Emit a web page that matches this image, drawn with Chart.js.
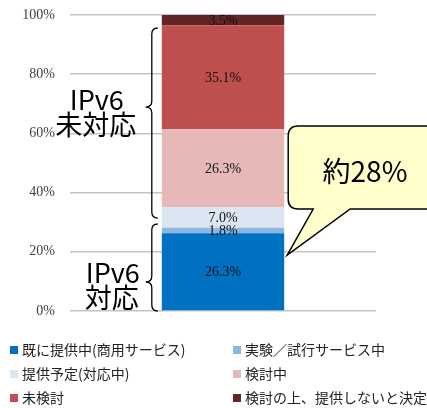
<!DOCTYPE html>
<html><head><meta charset="utf-8">
<script src="https://cdn.jsdelivr.net/npm/chart.js@4"></script>
<style>html,body{margin:0;padding:0;background:#fff;overflow:hidden} canvas{display:block}</style>
</head><body>
<canvas id="c" width="427" height="408" style="width:427px;height:408px"></canvas>
<script>
const categories = ['IPv6対応状況'];
const seriesLabels = ['既に提供中(商用サービス)', '実験／試行サービス中', '提供予定(対応中)', '検討中', '未検討', '検討の上、提供しないと決定'];
const seriesValues = [26.3, 1.8, 7.0, 26.3, 35.1, 3.5];
const seriesColors = ['#0070C0', '#8DB4E2', '#DCE6F2', '#E6B9B8', '#C0504D', '#632523'];
const yTickValues = [0, 20, 40, 60, 80, 100];
const groupLabels = [['IPv6', '未対応'], ['IPv6', '対応']];
const groupBraces = [[31.4, 68.9, 95.6], [0.0, 9.8, 29.4]]; // bottom, tip, top (in %)
const groupLabelCenters = [67.1, 8.8];
const calloutText = '約28%';
const calloutTipValue = 18.9;

const datasets = seriesLabels.map((name, i) => ({
  label: name,
  data: [seriesValues[i]],
  backgroundColor: seriesColors[i],
  borderWidth: 0,
  barPercentage: 1.0,
  categoryPercentage: 0.4
}));

const serif = '"Liberation Serif", "DejaVu Serif", serif';
const sans = '"Noto Sans CJK JP", "Noto Sans", sans-serif';

const valueLabelPlugin = {
  id: 'valueLabels',
  afterDatasetsDraw(chart) {
    const ctx = chart.ctx;
    ctx.save();
    ctx.font = '14px ' + serif;
    ctx.fillStyle = '#111';
    ctx.textAlign = 'center';
    ctx.textBaseline = 'middle';
    chart.data.datasets.forEach((ds, i) => {
      const meta = chart.getDatasetMeta(i);
      meta.data.forEach((el, j) => {
        const cy = (el.y + el.base) / 2;
        ctx.fillText(ds.data[j].toFixed(1) + '%', el.x, cy + 1);
      });
    });
    ctx.restore();
  }
};

function drawBrace(ctx, x, yTop, yTip, yBottom, w) {
  ctx.beginPath();
  ctx.moveTo(x + w, yTop);
  ctx.quadraticCurveTo(x, yTop, x, yTop + w);
  ctx.lineTo(x, yTip - w);
  ctx.quadraticCurveTo(x, yTip, x - w, yTip);
  ctx.quadraticCurveTo(x, yTip, x, yTip + w);
  ctx.lineTo(x, yBottom - w);
  ctx.quadraticCurveTo(x, yBottom, x + w, yBottom);
  ctx.stroke();
}

const annotationPlugin = {
  id: 'annotations',
  afterDraw(chart) {
    const ctx = chart.ctx;
    const y = chart.scales.y;
    const bar = chart.getDatasetMeta(0).data[0];
    const barLeft = bar.x - bar.width / 2;
    const barRight = bar.x + bar.width / 2;
    ctx.save();
    ctx.strokeStyle = '#000';
    ctx.lineWidth = 1.3;
    const bx = barLeft - 10;
    groupBraces.forEach(b => {
      drawBrace(ctx, bx, y.getPixelForValue(b[2]), y.getPixelForValue(b[1]), y.getPixelForValue(b[0]), 6);
    });
    ctx.fillStyle = '#000';
    ctx.textAlign = 'center';
    ctx.textBaseline = 'middle';
    ctx.font = '27px ' + sans;
    const labelX = [bx - 56, bx - 40];
    groupLabels.forEach((lines, i) => {
      const cy = y.getPixelForValue(groupLabelCenters[i]);
      ctx.fillText(lines[0], labelX[i] + 1, cy - 12.5);
      ctx.fillText(lines[1], labelX[i], cy + 12.5);
    });
    const left = barRight + 4, top = 126, bottom = 209, right = 460, r = 10;
    const tipX = barRight + 3, tipY = y.getPixelForValue(calloutTipValue);
    ctx.beginPath();
    ctx.moveTo(left + r, top);
    ctx.lineTo(right, top);
    ctx.lineTo(right, bottom);
    ctx.lineTo(left + 62, bottom);
    ctx.lineTo(tipX, tipY);
    ctx.lineTo(left + 25, bottom);
    ctx.lineTo(left + r, bottom);
    ctx.quadraticCurveTo(left, bottom, left, bottom - r);
    ctx.lineTo(left, top + r);
    ctx.quadraticCurveTo(left, top, left + r, top);
    ctx.closePath();
    ctx.fillStyle = '#FFFFCC';
    ctx.fill();
    ctx.lineWidth = 1.5;
    ctx.strokeStyle = '#000';
    ctx.stroke();
    ctx.fillStyle = '#000';
    ctx.font = '28px ' + sans;
    ctx.fillText(calloutText, 365, 171);
    ctx.restore();
  }
};

const legendPlugin = {
  id: 'gridLegend',
  afterDraw(chart) {
    const ctx = chart.ctx;
    ctx.save();
    ctx.font = '14px ' + sans;
    ctx.textBaseline = 'middle';
    ctx.textAlign = 'left';
    const colX = [10, 233];
    const rowY = [350, 374, 398];
    chart.data.datasets.forEach((ds, i) => {
      const col = i % 2, row = Math.floor(i / 2);
      const x = colX[col], yy = rowY[row];
      ctx.fillStyle = ds.backgroundColor;
      ctx.fillRect(x, yy - 4, 8, 8);
      ctx.fillStyle = '#222';
      ctx.fillText(ds.label, x + 12, yy);
    });
    ctx.restore();
  }
};

new Chart(document.getElementById('c'), {
  type: 'bar',
  data: { labels: categories, datasets },
  options: {
    responsive: false,
    animation: false,
    layout: { padding: { left: 0, right: 51, top: 15, bottom: 97 } },
    plugins: { legend: { display: false }, tooltip: { enabled: false } },
    scales: {
      x: { stacked: true, display: false },
      y: {
        stacked: true,
        min: 0, max: 100,
        afterBuildTicks(scale) { scale.ticks = yTickValues.map(v => ({ value: v })); },
        afterFit(scale) { scale.width = 70; scale.paddingTop = 0; scale.paddingBottom = 0; },
        border: { display: false },
        grid: { color: '#C4C4C4', lineWidth: 1.5, drawTicks: false },
        ticks: {
          padding: 15,
          color: '#404040',
          font: { family: serif, size: 14 },
          callback: v => v + '%'
        }
      }
    }
  },
  plugins: [valueLabelPlugin, annotationPlugin, legendPlugin]
});
</script>
</body></html>
